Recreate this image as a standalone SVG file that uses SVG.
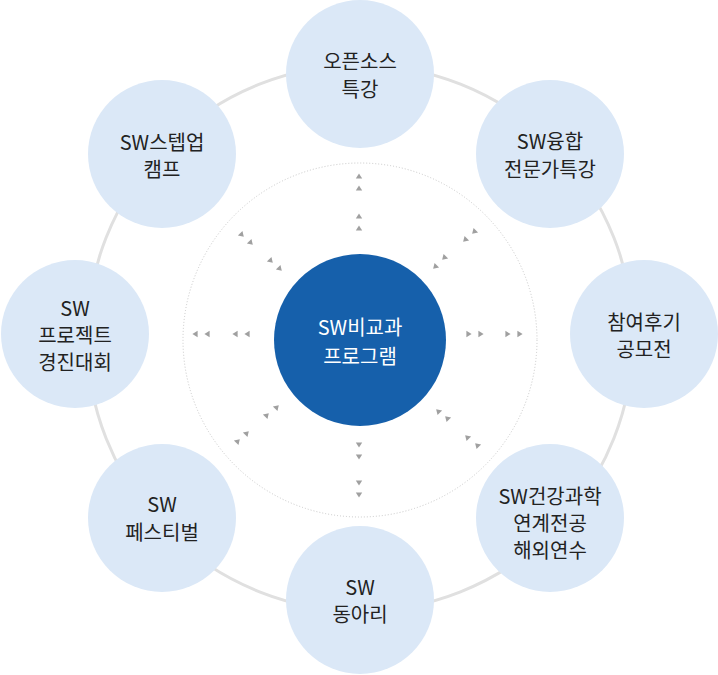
<svg xmlns="http://www.w3.org/2000/svg" width="718" height="675" viewBox="0 0 718 675">
<defs>
<style>
.node circle{fill:#dbe8f7}
.node text{font-family:"Noto Sans CJK KR","Noto Sans",sans-serif;font-size:20px;fill:#222;text-anchor:middle}
#center circle{fill:#1660ab}
#center text{font-family:"Noto Sans CJK KR","Noto Sans",sans-serif;font-size:20px;fill:#fff;text-anchor:middle}
.ring{fill:none;stroke:#e0e0e0;stroke-width:3}
.dots{fill:none;stroke:#c8c8c8;stroke-width:1;stroke-dasharray:1 2}
.arr{fill:#a0a0a0}
</style>
<path id="tri" d="M0,-2.6 L3.2,2.6 L-3.2,2.6 Z"/>
</defs>
<rect width="718" height="675" fill="#fff"/>
<g id="connectors">
<circle class="ring" cx="360" cy="338" r="273"/>
<circle class="dots" cx="360" cy="340" r="177"/>
<g class="arr">
<use href="#tri" transform="translate(359,176)"/>
<use href="#tri" transform="translate(359,188)"/>
<use href="#tri" transform="translate(359,216)"/>
<use href="#tri" transform="translate(359,228)"/>
<use href="#tri" transform="translate(359,445) rotate(180)"/>
<use href="#tri" transform="translate(359,457) rotate(180)"/>
<use href="#tri" transform="translate(359,483) rotate(180)"/>
<use href="#tri" transform="translate(359,495) rotate(180)"/>
<use href="#tri" transform="translate(469,334) rotate(90)"/>
<use href="#tri" transform="translate(481,334) rotate(90)"/>
<use href="#tri" transform="translate(508,334) rotate(90)"/>
<use href="#tri" transform="translate(520,334) rotate(90)"/>
<use href="#tri" transform="translate(195,334) rotate(-90)"/>
<use href="#tri" transform="translate(207,334) rotate(-90)"/>
<use href="#tri" transform="translate(235,334) rotate(-90)"/>
<use href="#tri" transform="translate(247,334) rotate(-90)"/>
<use href="#tri" transform="translate(242,235) rotate(135)"/>
<use href="#tri" transform="translate(251,243) rotate(135)"/>
<use href="#tri" transform="translate(271,261) rotate(135)"/>
<use href="#tri" transform="translate(280,269) rotate(135)"/>
<use href="#tri" transform="translate(474,232) rotate(-135)"/>
<use href="#tri" transform="translate(465,240) rotate(-135)"/>
<use href="#tri" transform="translate(444,258) rotate(-135)"/>
<use href="#tri" transform="translate(435,267) rotate(-135)"/>
<use href="#tri" transform="translate(277,407) rotate(45)"/>
<use href="#tri" transform="translate(267,415) rotate(45)"/>
<use href="#tri" transform="translate(247,433) rotate(45)"/>
<use href="#tri" transform="translate(238,441) rotate(45)"/>
<use href="#tri" transform="translate(438,411) rotate(-45)"/>
<use href="#tri" transform="translate(447,418) rotate(-45)"/>
<use href="#tri" transform="translate(467,437) rotate(-45)"/>
<use href="#tri" transform="translate(477,445) rotate(-45)"/>
</g>
</g>
<g id="center">
<circle cx="360" cy="340" r="86"/>
<text x="360" y="335">SW비교과</text>
<text x="360" y="364">프로그램</text>
</g>
<g id="node-opensource" class="node">
<circle cx="360" cy="74" r="74"/>
<text x="360" y="69">오픈소스</text>
<text x="360" y="97">특강</text>
</g>
<g id="node-convergence" class="node">
<circle cx="550" cy="154" r="74"/>
<text x="550" y="149">SW융합</text>
<text x="550" y="177">전문가특강</text>
</g>
<g id="node-review" class="node">
<circle cx="644" cy="334" r="74"/>
<text x="644" y="330">참여후기</text>
<text x="644" y="357">공모전</text>
</g>
<g id="node-health" class="node">
<circle cx="550" cy="518" r="74"/>
<text x="550" y="504">SW건강과학</text>
<text x="550" y="531">연계전공</text>
<text x="550" y="558">해외연수</text>
</g>
<g id="node-club" class="node">
<circle cx="360" cy="600" r="74"/>
<text x="360" y="595">SW</text>
<text x="360" y="622">동아리</text>
</g>
<g id="node-festival" class="node">
<circle cx="162" cy="518" r="74"/>
<text x="162" y="512">SW</text>
<text x="162" y="540">페스티벌</text>
</g>
<g id="node-project" class="node">
<circle cx="75" cy="334" r="74"/>
<text x="75" y="316">SW</text>
<text x="75" y="343">프로젝트</text>
<text x="75" y="370">경진대회</text>
</g>
<g id="node-stepup" class="node">
<circle cx="162" cy="154" r="74"/>
<text x="162" y="150">SW스텝업</text>
<text x="162" y="177">캠프</text>
</g>
</svg>
